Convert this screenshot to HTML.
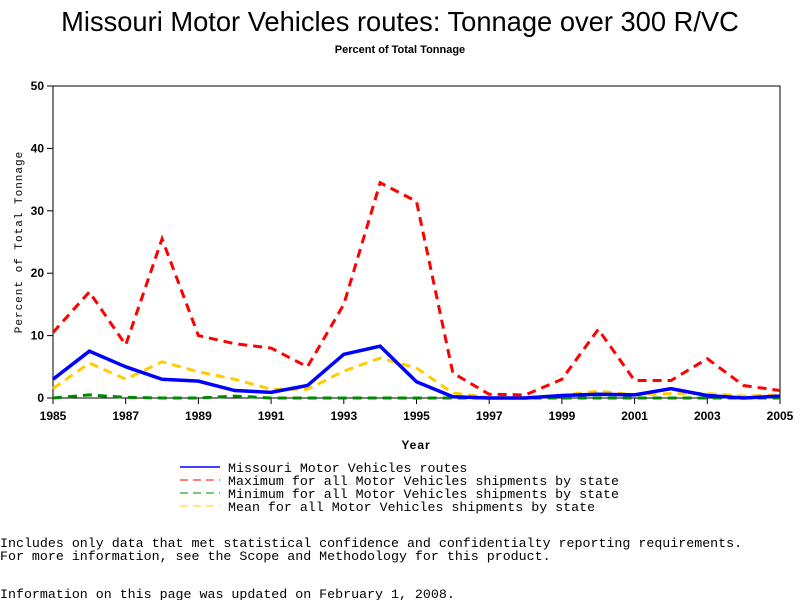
<!DOCTYPE html>
<html><head><meta charset="utf-8"><style>
body{margin:0;background:#fff;width:800px;height:600px;overflow:hidden}
svg text{font-family:"Liberation Sans",sans-serif}
.mono{font-family:"Liberation Mono",monospace;font-size:13.3px}
</style></head><body>
<svg id="chart" width="800" height="600" xmlns="http://www.w3.org/2000/svg">
<text x="400" y="31" text-anchor="middle" font-size="27.3">Missouri Motor Vehicles routes: Tonnage over 300 R/VC</text>
<text x="400" y="53" text-anchor="middle" font-size="11" font-weight="bold">Percent of Total Tonnage</text>
<rect x="53" y="86" width="727" height="312" fill="none" stroke="#000" stroke-width="1"/>
<g id="axes"></g>
<g id="series"></g>
<text x="416" y="449" text-anchor="middle" font-size="12" font-weight="bold" letter-spacing="1">Year</text>
<text transform="translate(22,242) rotate(-90)" text-anchor="middle" class="mono" style="font-size:11px" letter-spacing="1">Percent of Total Tonnage</text>
<g>
<line x1="180" y1="467" x2="220" y2="467" stroke="#00f" stroke-width="1.5"/>
<text class="mono" x="228" y="472">Missouri Motor Vehicles routes</text>
<line x1="180" y1="480" x2="220" y2="480" stroke="#f00" stroke-width="1" stroke-dasharray="8,5"/>
<text class="mono" x="228" y="485">Maximum for all Motor Vehicles shipments by state</text>
<line x1="180" y1="493" x2="220" y2="493" stroke="#080" stroke-width="1" stroke-dasharray="8,5"/>
<text class="mono" x="228" y="498">Minimum for all Motor Vehicles shipments by state</text>
<line x1="180" y1="506" x2="220" y2="506" stroke="#fc0" stroke-width="1" stroke-dasharray="8,5"/>
<text class="mono" x="228" y="511">Mean for all Motor Vehicles shipments by state</text>
</g>
<text class="mono" x="0" y="547">Includes only data that met statistical confidence and confidentialty reporting requirements.</text>
<text class="mono" x="0" y="560">For more information, see the Scope and Methodology for this product.</text>
<text class="mono" x="0" y="598">Information on this page was updated on February 1, 2008.</text>
</svg>
<script>
const years=[1985,1986,1987,1988,1989,1990,1991,1992,1993,1994,1995,1996,1997,1998,1999,2000,2001,2002,2003,2004,2005];
const missouri=[3,7.5,5,3,2.7,1.2,0.9,2,7,8.3,2.6,0.2,0,0,0.4,0.6,0.5,1.5,0.4,0,0.3];
const maximum=[10.5,17,8.5,25.5,10,8.7,8,5,15,34.5,31.5,4,0.6,0.5,3,11,2.8,2.8,6.3,2,1.2];
const minimum=[0,0.5,0.1,0,0,0.3,0,0,0,0,0,0,0,0,0,0,0,0,0,0,0];
const mean=[1.5,5.6,3,5.8,4.2,3,1.4,1.4,4.3,6.4,4.8,0.8,0.1,0.1,0.4,1.1,0.5,0.7,0.7,0.3,0.5];
const xTicks=[1985,1987,1989,1991,1993,1995,1997,1999,2001,2003,2005];
const yTicks=[0,10,20,30,40,50];
const NS="http://www.w3.org/2000/svg";
const x=v=>53+(v-1985)*727/20;
const y=v=>398-v*312/50;
const axes=document.getElementById('axes');
function mk(tag,attrs,parent){const e=document.createElementNS(NS,tag);for(const k in attrs)e.setAttribute(k,attrs[k]);parent.appendChild(e);return e;}
xTicks.forEach(t=>{
  const l=mk('line',{x1:x(t),x2:x(t),y1:398,y2:404,stroke:'#000'},axes);
  
  
  const tx=mk('text',{x:x(t),y:420,'text-anchor':'middle','font-size':'12','font-weight':'bold'},axes);
  tx.textContent=t;
  
  
});
yTicks.forEach(t=>{
  const l=mk('line',{x1:47,x2:53,y1:y(t),y2:y(t),stroke:'#000'},axes);
  
  
  const tx=mk('text',{x:44,y:y(t)+4,'text-anchor':'end','font-size':'12','font-weight':'bold'},axes);
  tx.textContent=t;
  
  
});
const sg=document.getElementById('series');
function draw(vals,color,w,dash,name){
  const p=mk('polyline',{points:vals.map((v,i)=>x(years[i])+','+y(v)).join(' '),fill:'none',stroke:color,'stroke-width':w,'stroke-dasharray':dash},sg);
  
  
}
draw(minimum,'#080',3,'9,6','minimum-line');
draw(mean,'#fc0',3,'9,6','mean-line');
draw(missouri,'#00f',3.5,'none','missouri-line');
draw(maximum,'#f00',3,'9,6','maximum-line');
</script>
</body></html>
